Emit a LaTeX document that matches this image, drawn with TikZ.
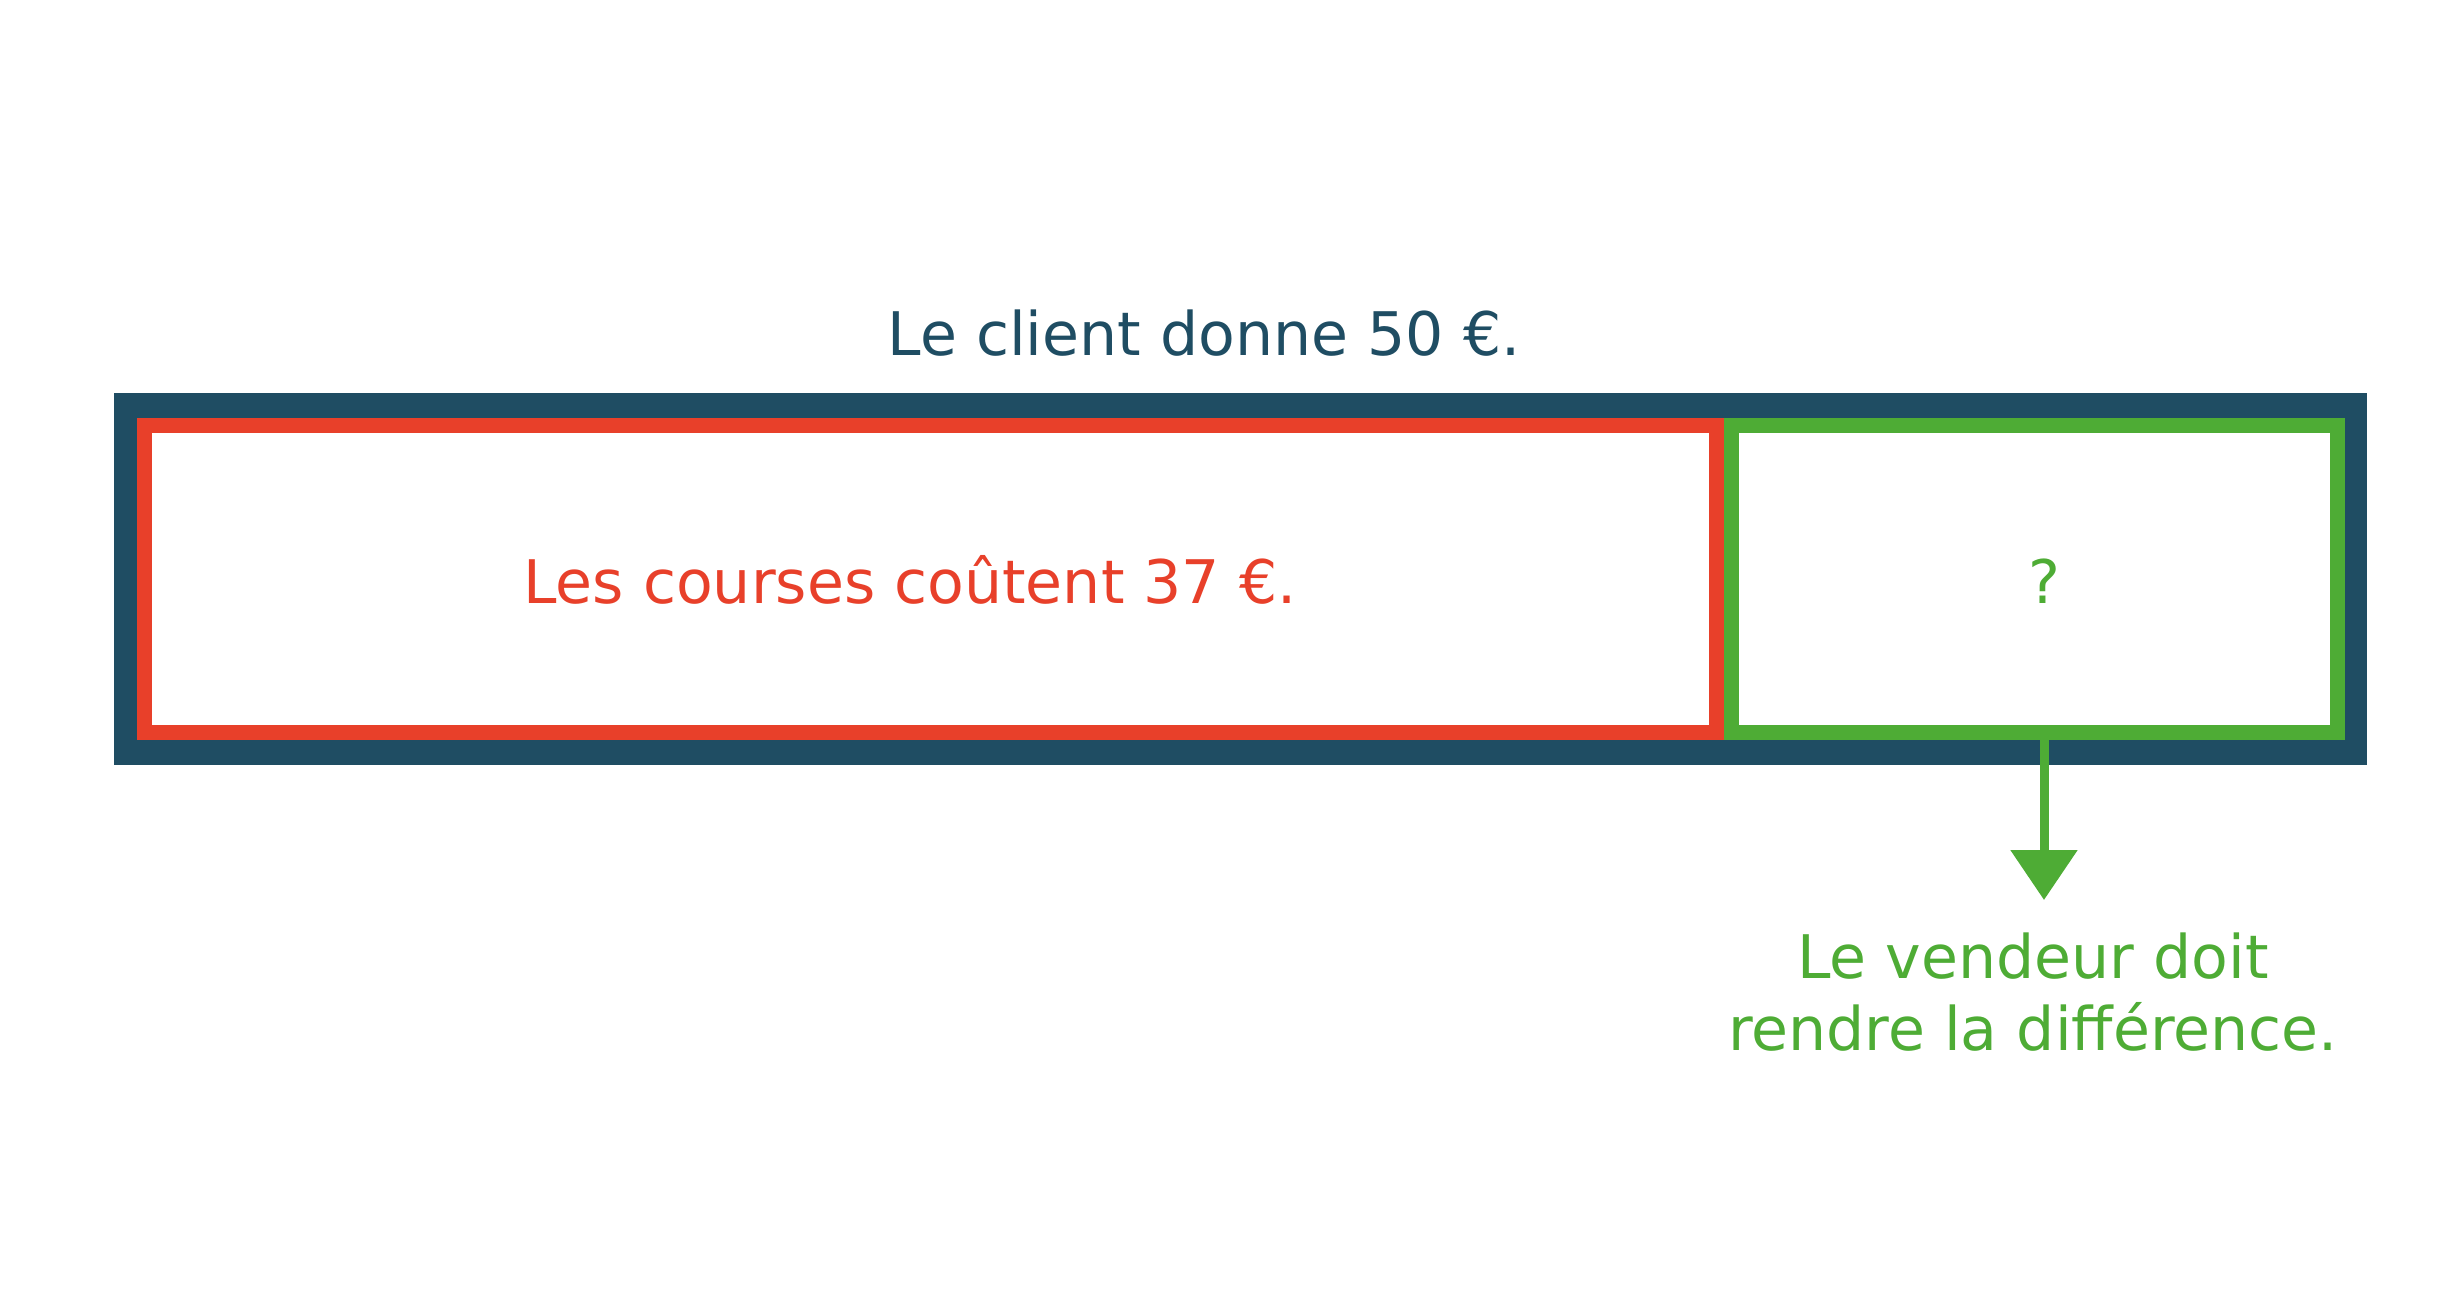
\documentclass[tikz,border=0pt]{standalone}
\usepackage{fontspec}
\setmainfont{DejaVu Sans}
\usetikzlibrary{arrows.meta}
\definecolor{fondbleu}{RGB}{31,77,99}
\definecolor{rouge}{RGB}{232,64,42}
\definecolor{vert}{RGB}{78,172,53}
\tikzset{
  texte/.style={font=\fontsize{17.1}{20.6}\selectfont, inner sep=0pt},
  boite/.style={draw, line width=0.15cm, fill=white, minimum height=3.07cm, inner sep=0pt},
}
\begin{document}
\begin{tikzpicture}
\useasboundingbox (0,0) rectangle (24.38,-12.92);
\node[fill=fondbleu, minimum width=22.53cm, minimum height=3.72cm, inner sep=0pt] (total) at (12.405,-5.79) {};
\node[boite, draw=rouge, minimum width=15.72cm] (courses) at (9.305,-5.79) {};
\node[boite, draw=vert, minimum width=6.06cm] (reste) at (20.345,-5.79) {};
\node[texte, text=fondbleu, anchor=base] (client) at (12.04,-3.555) {Le client donne 50 €.};
\node[texte, text=rouge, anchor=base] (prix) at (9.10,-6.03) {Les courses coûtent 37 €.};
\node[texte, text=vert, anchor=base] (question) at (20.44,-6.03) {?};
\node[texte, text=vert, align=center, anchor=north] (vendeur) at (20.33,-9.32) {Le vendeur doit\\rendre la différence.};
\coordinate (pointe) at (20.44,-9.00);
\draw[vert, line width=0.09cm, -{Triangle[width=0.65cm,length=0.5cm]}] (question |- reste.south) -- (pointe);
\end{tikzpicture}
\end{document}
